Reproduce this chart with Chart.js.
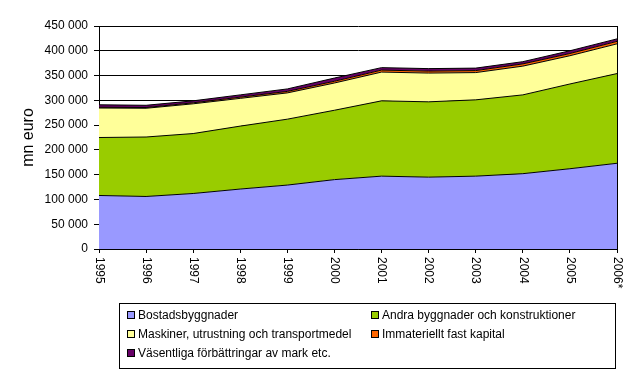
<!DOCTYPE html>
<html>
<head>
<meta charset="utf-8">
<script src="https://cdn.jsdelivr.net/npm/chart.js@4/dist/chart.umd.min.js"></script>
<style>
  body { margin: 0; background: #fff; }
  #wrap { width: 641px; height: 375px; }
</style>
</head>
<body>
<div id="wrap"><canvas id="investChart" width="641" height="375"></canvas></div>
<script>
// years on the x axis
const years = ['1995', '1996', '1997', '1998', '1999', '2000', '2001', '2002', '2003', '2004', '2005', '2006*'];

// series, mn euro
const bostad    = [108000, 106000, 112000, 121000, 129000, 140000, 147000, 145000, 147000, 152000, 162000, 173000];
const andra     = [117000, 120000, 121000, 127000, 133000, 140000, 152000, 152000, 154000, 159000, 171000, 181000];
const maskiner  = [59500, 58000, 60000, 56000, 53000, 55000, 58000, 58000, 55000, 58000, 57000, 60000];
const immat     = [1500, 1500, 2000, 2500, 3000, 3500, 4000, 4000, 4000, 4500, 4500, 5000];
const mark      = [5000, 4500, 4000, 4500, 5000, 6500, 5000, 5000, 5000, 4500, 5500, 5000];

const seriesNames = ['Bostadsbyggnader', 'Andra byggnader och konstruktioner',
    'Maskiner, utrustning och transportmedel', 'Immateriellt fast kapital',
    'Väsentliga förbättringar av mark etc.'];
const colors = ['#9999FF', '#99CC00', '#FFFF99', '#FF6600', '#660066'];

Chart.defaults.color = '#000';
Chart.defaults.font.family = '"Liberation Sans", Arial, sans-serif';
Chart.defaults.font.size = 12;

function fmt(v) {
    return String(v).replace(/\B(?=(\d{3})+(?!\d))/g, ' ');
}

const xLabelsPlugin = {
    id: 'xLabels',
    afterDraw(chart) {
        const ctx = chart.ctx;
        const xs = chart.scales.x;
        ctx.save();
        ctx.fillStyle = '#000';
        ctx.font = '12px "Liberation Sans", Arial, sans-serif';
        for (let i = 0; i < years.length; i++) {
            const px = xs.getPixelForTick(i);
            ctx.save();
            ctx.translate(px, 257);
            ctx.rotate(Math.PI / 2);
            ctx.textAlign = 'left';
            ctx.textBaseline = 'middle';
            ctx.fillText(years[i], 0, 0);
            ctx.restore();
        }
        // right edge of plot area
        const a = chart.chartArea;
        ctx.strokeStyle = '#000';
        ctx.lineWidth = 1;
        ctx.beginPath();
        ctx.moveTo(Math.round(a.right) + 0.5, a.top);
        ctx.lineTo(Math.round(a.right) + 0.5, a.bottom);
        ctx.stroke();
        ctx.restore();
    }
};

const legendPlugin = {
    id: 'boxLegend',
    afterDraw(chart) {
        const ctx = chart.ctx;
        ctx.save();
        ctx.strokeStyle = '#000';
        ctx.lineWidth = 1;
        ctx.strokeRect(119.5, 303.5, 496, 65);
        const spots = [[127, 315], [371, 315], [127, 334], [371, 334], [127, 353]];
        ctx.font = '12px "Liberation Sans", Arial, sans-serif';
        ctx.textBaseline = 'middle';
        ctx.textAlign = 'left';
        chart.data.datasets.forEach((ds, i) => {
            const [x, y] = spots[i];
            ctx.fillStyle = ds.backgroundColor;
            ctx.fillRect(x, y - 4, 8, 8);
            ctx.strokeRect(x + 0.5, y - 3.5, 7, 7);
            ctx.fillStyle = '#000';
            ctx.fillText(ds.label, x + 11, y + 1);
        });
        ctx.restore();
    }
};

const allData = [bostad, andra, maskiner, immat, mark];

new Chart(document.getElementById('investChart'), {
    type: 'line',
    data: {
        labels: years,
        datasets: allData.map((d, i) => ({
            label: seriesNames[i],
            data: d,
            backgroundColor: colors[i],
            borderColor: '#000',
            borderWidth: 1,
            pointRadius: 0,
            tension: 0,
            fill: i === 0 ? 'origin' : '-1'
        }))
    },
    options: {
        responsive: false,
        animation: false,
        layout: { padding: { left: 0, top: 26, right: 24, bottom: 0 } },
        plugins: {
            legend: { display: false },
            tooltip: { enabled: false }
        },
        scales: {
            x: {
                offset: false,
                grid: { display: true, drawOnChartArea: false, color: '#000', tickLength: 4 },
                border: { color: '#000' },
                ticks: { display: false },
                afterFit(s) { s.height = 126; }
            },
            y: {
                stacked: true,
                min: 0,
                max: 450000,
                grid: { color: '#000', tickLength: 5 },
                border: { color: '#000' },
                ticks: { stepSize: 50000, padding: 6, callback: v => fmt(v) },
                title: { display: true, text: 'mn euro', font: { size: 16 }, padding: { top: 19 } },
                afterFit(s) { s.width = 99; }
            }
        }
    },
    plugins: [xLabelsPlugin, legendPlugin]
});
</script>
</body>
</html>
